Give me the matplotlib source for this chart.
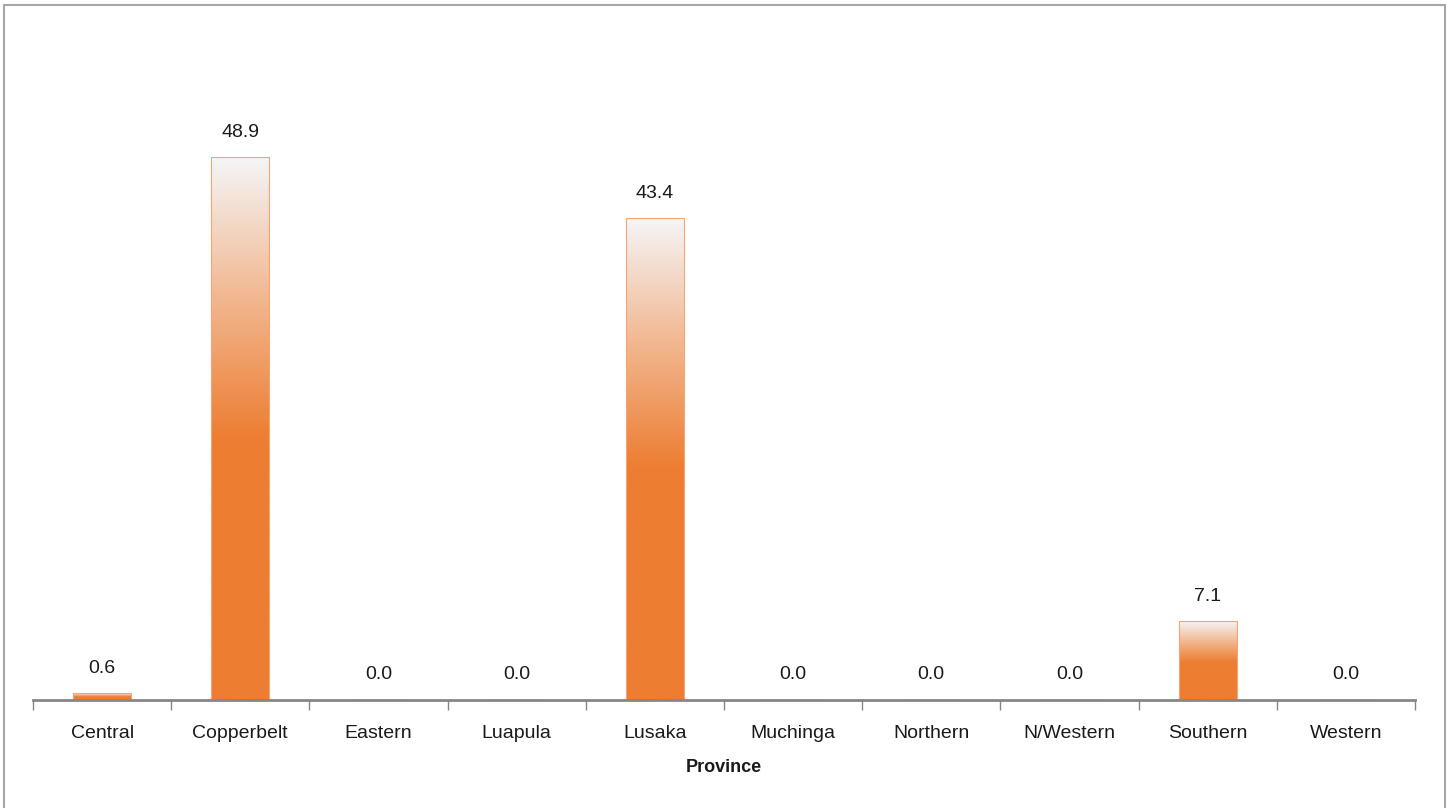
import numpy as np
import matplotlib.pyplot as plt
from matplotlib.patches import Rectangle
from matplotlib.colors import LinearSegmentedColormap
from matplotlib import font_manager

provinces = ["Central", "Copperbelt", "Eastern", "Luapula", "Lusaka",
             "Muchinga", "Northern", "N/Western", "Southern", "Western"]
values = [0.6, 48.9, 0.0, 0.0, 43.4, 0.0, 0.0, 0.0, 7.1, 0.0]

# condensed font if available
names = {f.name for f in font_manager.fontManager.ttflist}
fam = "Liberation Sans Narrow" if "Liberation Sans Narrow" in names else "Liberation Sans"
plt.rcParams['font.family'] = [fam, 'DejaVu Sans']
fs = 12 if fam.endswith("Narrow") else 14
fs = 16 if fam.endswith("Narrow") else 14

W, H = 1450, 808
fig = plt.figure(figsize=(W / 100, H / 100), dpi=100)
ax = fig.add_axes([33 / W, 1 - 700 / H, (1415 - 33) / W, (700 - 34) / H])

# outer frame
fig.patches.append(Rectangle((4 / W, -0.05), (1445 - 4) / W, 1.05 - 5 / H,
                             transform=fig.transFigure, fill=False,
                             edgecolor="#A6A6A6", linewidth=1.5))

orange = "#ED7D31"
cmap = LinearSegmentedColormap.from_list(
    "grad", [(0, orange), (0.48, orange), (0.75, "#F2B993"), (1, "#F5F5F7")])
grad = np.linspace(1, 0, 256).reshape(-1, 1)

x = np.arange(len(provinces))
bars = ax.bar(x, values, width=0.42, color="none", edgecolor="#F4A572", linewidth=0.8)
for b, v in zip(bars, values):
    if v <= 0:
        continue
    x0 = b.get_x()
    im = ax.imshow(grad, cmap=cmap, vmin=0, vmax=1, aspect="auto",
                   extent=[x0, x0 + b.get_width(), 0, v], zorder=1)
    im.set_clip_path(b)
    b.set_zorder(2)

for xi, v in zip(x, values):
    ax.text(xi, v + 1.5, f"{v:.1f}", ha="center", va="bottom", fontsize=fs, color="#1a1a1a")

ax.set_xlim(-0.5, len(provinces) - 0.5)
ax.set_ylim(0, 60)
ax.set_yticks([])
for s in ["top", "right", "left"]:
    ax.spines[s].set_visible(False)
ax.spines["bottom"].set_color("#868686")
ax.spines["bottom"].set_linewidth(2)

ax.set_xticks(np.arange(-0.5, len(provinces)), minor=False)
ax.set_xticklabels([])
ax.tick_params(axis="x", length=7, color="#868686", width=1)
ax.set_xticks(x, minor=True)
ax.set_xticklabels(provinces, minor=True, fontsize=fs, color="#1a1a1a")
ax.tick_params(axis="x", which="minor", length=0, pad=18)
ax.set_xlabel("Province", fontsize=fs - 1, fontweight="bold", color="#1a1a1a", labelpad=12)

fig.savefig("out.png", dpi=100)
